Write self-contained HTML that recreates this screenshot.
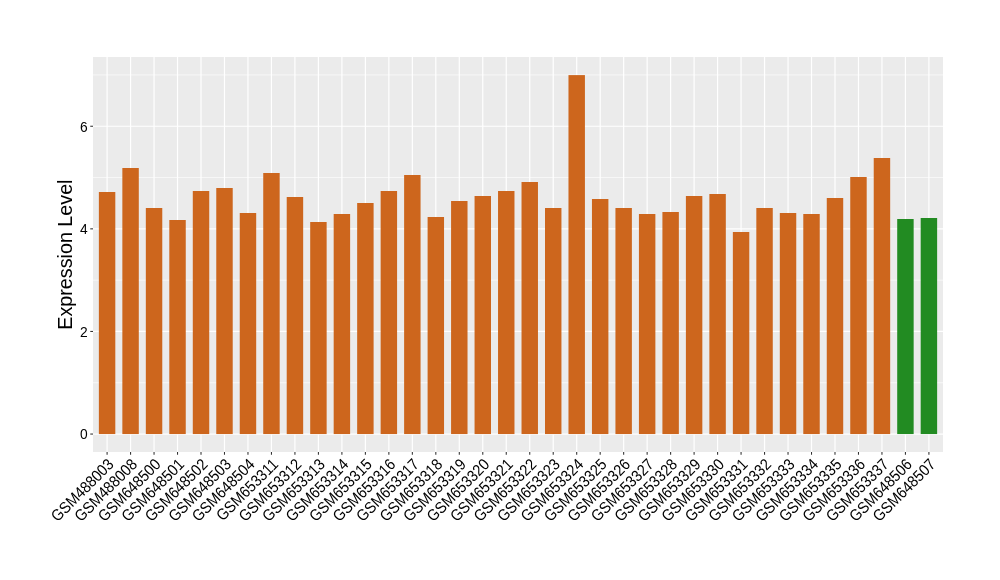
<!DOCTYPE html>
<html><head><meta charset="utf-8"><style>
html,body{margin:0;padding:0;background:#fff;}
svg{display:block;will-change:transform;font-family:"Liberation Sans",sans-serif;}
</style></head><body>
<svg width="1000" height="580" viewBox="0 0 1000 580">
<rect width="1000" height="580" fill="#fff"/>
<rect x="93" y="57" width="850" height="395" fill="#EBEBEB"/>
<line x1="93" x2="943" y1="382.75" y2="382.75" stroke="#fff" stroke-width="0.65"/>
<line x1="93" x2="943" y1="280.15" y2="280.15" stroke="#fff" stroke-width="0.65"/>
<line x1="93" x2="943" y1="177.55" y2="177.55" stroke="#fff" stroke-width="0.65"/>
<line x1="93" x2="943" y1="74.95" y2="74.95" stroke="#fff" stroke-width="0.65"/>
<line x1="93" x2="943" y1="434.05" y2="434.05" stroke="#fff" stroke-width="1.2"/>
<line x1="93" x2="943" y1="331.45" y2="331.45" stroke="#fff" stroke-width="1.2"/>
<line x1="93" x2="943" y1="228.85" y2="228.85" stroke="#fff" stroke-width="1.2"/>
<line x1="93" x2="943" y1="126.25" y2="126.25" stroke="#fff" stroke-width="1.2"/>
<line x1="107.09" x2="107.09" y1="57" y2="452" stroke="#fff" stroke-width="1.2"/>
<line x1="130.57" x2="130.57" y1="57" y2="452" stroke="#fff" stroke-width="1.2"/>
<line x1="154.05" x2="154.05" y1="57" y2="452" stroke="#fff" stroke-width="1.2"/>
<line x1="177.53" x2="177.53" y1="57" y2="452" stroke="#fff" stroke-width="1.2"/>
<line x1="201.01" x2="201.01" y1="57" y2="452" stroke="#fff" stroke-width="1.2"/>
<line x1="224.49" x2="224.49" y1="57" y2="452" stroke="#fff" stroke-width="1.2"/>
<line x1="247.97" x2="247.97" y1="57" y2="452" stroke="#fff" stroke-width="1.2"/>
<line x1="271.45" x2="271.45" y1="57" y2="452" stroke="#fff" stroke-width="1.2"/>
<line x1="294.93" x2="294.93" y1="57" y2="452" stroke="#fff" stroke-width="1.2"/>
<line x1="318.41" x2="318.41" y1="57" y2="452" stroke="#fff" stroke-width="1.2"/>
<line x1="341.90" x2="341.90" y1="57" y2="452" stroke="#fff" stroke-width="1.2"/>
<line x1="365.38" x2="365.38" y1="57" y2="452" stroke="#fff" stroke-width="1.2"/>
<line x1="388.86" x2="388.86" y1="57" y2="452" stroke="#fff" stroke-width="1.2"/>
<line x1="412.34" x2="412.34" y1="57" y2="452" stroke="#fff" stroke-width="1.2"/>
<line x1="435.82" x2="435.82" y1="57" y2="452" stroke="#fff" stroke-width="1.2"/>
<line x1="459.30" x2="459.30" y1="57" y2="452" stroke="#fff" stroke-width="1.2"/>
<line x1="482.78" x2="482.78" y1="57" y2="452" stroke="#fff" stroke-width="1.2"/>
<line x1="506.26" x2="506.26" y1="57" y2="452" stroke="#fff" stroke-width="1.2"/>
<line x1="529.74" x2="529.74" y1="57" y2="452" stroke="#fff" stroke-width="1.2"/>
<line x1="553.22" x2="553.22" y1="57" y2="452" stroke="#fff" stroke-width="1.2"/>
<line x1="576.70" x2="576.70" y1="57" y2="452" stroke="#fff" stroke-width="1.2"/>
<line x1="600.18" x2="600.18" y1="57" y2="452" stroke="#fff" stroke-width="1.2"/>
<line x1="623.66" x2="623.66" y1="57" y2="452" stroke="#fff" stroke-width="1.2"/>
<line x1="647.14" x2="647.14" y1="57" y2="452" stroke="#fff" stroke-width="1.2"/>
<line x1="670.62" x2="670.62" y1="57" y2="452" stroke="#fff" stroke-width="1.2"/>
<line x1="694.10" x2="694.10" y1="57" y2="452" stroke="#fff" stroke-width="1.2"/>
<line x1="717.59" x2="717.59" y1="57" y2="452" stroke="#fff" stroke-width="1.2"/>
<line x1="741.07" x2="741.07" y1="57" y2="452" stroke="#fff" stroke-width="1.2"/>
<line x1="764.55" x2="764.55" y1="57" y2="452" stroke="#fff" stroke-width="1.2"/>
<line x1="788.03" x2="788.03" y1="57" y2="452" stroke="#fff" stroke-width="1.2"/>
<line x1="811.51" x2="811.51" y1="57" y2="452" stroke="#fff" stroke-width="1.2"/>
<line x1="834.99" x2="834.99" y1="57" y2="452" stroke="#fff" stroke-width="1.2"/>
<line x1="858.47" x2="858.47" y1="57" y2="452" stroke="#fff" stroke-width="1.2"/>
<line x1="881.95" x2="881.95" y1="57" y2="452" stroke="#fff" stroke-width="1.2"/>
<line x1="905.43" x2="905.43" y1="57" y2="452" stroke="#fff" stroke-width="1.2"/>
<line x1="928.91" x2="928.91" y1="57" y2="452" stroke="#fff" stroke-width="1.2"/>
<rect x="98.87" y="192.00" width="16.44" height="242.05" fill="#CD661D"/>
<rect x="122.35" y="168.00" width="16.44" height="266.05" fill="#CD661D"/>
<rect x="145.83" y="208.00" width="16.44" height="226.05" fill="#CD661D"/>
<rect x="169.31" y="220.00" width="16.44" height="214.05" fill="#CD661D"/>
<rect x="192.79" y="191.00" width="16.44" height="243.05" fill="#CD661D"/>
<rect x="216.27" y="188.00" width="16.44" height="246.05" fill="#CD661D"/>
<rect x="239.75" y="213.00" width="16.44" height="221.05" fill="#CD661D"/>
<rect x="263.23" y="173.00" width="16.44" height="261.05" fill="#CD661D"/>
<rect x="286.72" y="197.00" width="16.44" height="237.05" fill="#CD661D"/>
<rect x="310.20" y="222.00" width="16.44" height="212.05" fill="#CD661D"/>
<rect x="333.68" y="214.00" width="16.44" height="220.05" fill="#CD661D"/>
<rect x="357.16" y="203.00" width="16.44" height="231.05" fill="#CD661D"/>
<rect x="380.64" y="191.00" width="16.44" height="243.05" fill="#CD661D"/>
<rect x="404.12" y="175.00" width="16.44" height="259.05" fill="#CD661D"/>
<rect x="427.60" y="217.00" width="16.44" height="217.05" fill="#CD661D"/>
<rect x="451.08" y="201.00" width="16.44" height="233.05" fill="#CD661D"/>
<rect x="474.56" y="196.00" width="16.44" height="238.05" fill="#CD661D"/>
<rect x="498.04" y="191.00" width="16.44" height="243.05" fill="#CD661D"/>
<rect x="521.52" y="182.00" width="16.44" height="252.05" fill="#CD661D"/>
<rect x="545.00" y="208.00" width="16.44" height="226.05" fill="#CD661D"/>
<rect x="568.48" y="75.10" width="16.44" height="358.95" fill="#CD661D"/>
<rect x="591.96" y="199.00" width="16.44" height="235.05" fill="#CD661D"/>
<rect x="615.44" y="208.00" width="16.44" height="226.05" fill="#CD661D"/>
<rect x="638.93" y="214.00" width="16.44" height="220.05" fill="#CD661D"/>
<rect x="662.41" y="212.00" width="16.44" height="222.05" fill="#CD661D"/>
<rect x="685.89" y="196.00" width="16.44" height="238.05" fill="#CD661D"/>
<rect x="709.37" y="194.00" width="16.44" height="240.05" fill="#CD661D"/>
<rect x="732.85" y="232.00" width="16.44" height="202.05" fill="#CD661D"/>
<rect x="756.33" y="208.00" width="16.44" height="226.05" fill="#CD661D"/>
<rect x="779.81" y="213.00" width="16.44" height="221.05" fill="#CD661D"/>
<rect x="803.29" y="214.00" width="16.44" height="220.05" fill="#CD661D"/>
<rect x="826.77" y="198.00" width="16.44" height="236.05" fill="#CD661D"/>
<rect x="850.25" y="177.00" width="16.44" height="257.05" fill="#CD661D"/>
<rect x="873.73" y="158.00" width="16.44" height="276.05" fill="#CD661D"/>
<rect x="897.21" y="219.00" width="16.44" height="215.05" fill="#228B22"/>
<rect x="920.69" y="218.00" width="16.44" height="216.05" fill="#228B22"/>
<line x1="90.26" x2="93" y1="434.05" y2="434.05" stroke="#333" stroke-width="1.07"/>
<line x1="90.26" x2="93" y1="331.45" y2="331.45" stroke="#333" stroke-width="1.07"/>
<line x1="90.26" x2="93" y1="228.85" y2="228.85" stroke="#333" stroke-width="1.07"/>
<line x1="90.26" x2="93" y1="126.25" y2="126.25" stroke="#333" stroke-width="1.07"/>
<line x1="107.09" x2="107.09" y1="452" y2="454.74" stroke="#333" stroke-width="1.07"/>
<line x1="130.57" x2="130.57" y1="452" y2="454.74" stroke="#333" stroke-width="1.07"/>
<line x1="154.05" x2="154.05" y1="452" y2="454.74" stroke="#333" stroke-width="1.07"/>
<line x1="177.53" x2="177.53" y1="452" y2="454.74" stroke="#333" stroke-width="1.07"/>
<line x1="201.01" x2="201.01" y1="452" y2="454.74" stroke="#333" stroke-width="1.07"/>
<line x1="224.49" x2="224.49" y1="452" y2="454.74" stroke="#333" stroke-width="1.07"/>
<line x1="247.97" x2="247.97" y1="452" y2="454.74" stroke="#333" stroke-width="1.07"/>
<line x1="271.45" x2="271.45" y1="452" y2="454.74" stroke="#333" stroke-width="1.07"/>
<line x1="294.93" x2="294.93" y1="452" y2="454.74" stroke="#333" stroke-width="1.07"/>
<line x1="318.41" x2="318.41" y1="452" y2="454.74" stroke="#333" stroke-width="1.07"/>
<line x1="341.90" x2="341.90" y1="452" y2="454.74" stroke="#333" stroke-width="1.07"/>
<line x1="365.38" x2="365.38" y1="452" y2="454.74" stroke="#333" stroke-width="1.07"/>
<line x1="388.86" x2="388.86" y1="452" y2="454.74" stroke="#333" stroke-width="1.07"/>
<line x1="412.34" x2="412.34" y1="452" y2="454.74" stroke="#333" stroke-width="1.07"/>
<line x1="435.82" x2="435.82" y1="452" y2="454.74" stroke="#333" stroke-width="1.07"/>
<line x1="459.30" x2="459.30" y1="452" y2="454.74" stroke="#333" stroke-width="1.07"/>
<line x1="482.78" x2="482.78" y1="452" y2="454.74" stroke="#333" stroke-width="1.07"/>
<line x1="506.26" x2="506.26" y1="452" y2="454.74" stroke="#333" stroke-width="1.07"/>
<line x1="529.74" x2="529.74" y1="452" y2="454.74" stroke="#333" stroke-width="1.07"/>
<line x1="553.22" x2="553.22" y1="452" y2="454.74" stroke="#333" stroke-width="1.07"/>
<line x1="576.70" x2="576.70" y1="452" y2="454.74" stroke="#333" stroke-width="1.07"/>
<line x1="600.18" x2="600.18" y1="452" y2="454.74" stroke="#333" stroke-width="1.07"/>
<line x1="623.66" x2="623.66" y1="452" y2="454.74" stroke="#333" stroke-width="1.07"/>
<line x1="647.14" x2="647.14" y1="452" y2="454.74" stroke="#333" stroke-width="1.07"/>
<line x1="670.62" x2="670.62" y1="452" y2="454.74" stroke="#333" stroke-width="1.07"/>
<line x1="694.10" x2="694.10" y1="452" y2="454.74" stroke="#333" stroke-width="1.07"/>
<line x1="717.59" x2="717.59" y1="452" y2="454.74" stroke="#333" stroke-width="1.07"/>
<line x1="741.07" x2="741.07" y1="452" y2="454.74" stroke="#333" stroke-width="1.07"/>
<line x1="764.55" x2="764.55" y1="452" y2="454.74" stroke="#333" stroke-width="1.07"/>
<line x1="788.03" x2="788.03" y1="452" y2="454.74" stroke="#333" stroke-width="1.07"/>
<line x1="811.51" x2="811.51" y1="452" y2="454.74" stroke="#333" stroke-width="1.07"/>
<line x1="834.99" x2="834.99" y1="452" y2="454.74" stroke="#333" stroke-width="1.07"/>
<line x1="858.47" x2="858.47" y1="452" y2="454.74" stroke="#333" stroke-width="1.07"/>
<line x1="881.95" x2="881.95" y1="452" y2="454.74" stroke="#333" stroke-width="1.07"/>
<line x1="905.43" x2="905.43" y1="452" y2="454.74" stroke="#333" stroke-width="1.07"/>
<line x1="928.91" x2="928.91" y1="452" y2="454.74" stroke="#333" stroke-width="1.07"/>
<text text-anchor="end" font-size="15" fill="#000" transform="translate(87.6,439.30) scale(0.92,1)">0</text>
<text text-anchor="end" font-size="15" fill="#000" transform="translate(87.6,336.70) scale(0.92,1)">2</text>
<text text-anchor="end" font-size="15" fill="#000" transform="translate(87.6,234.10) scale(0.92,1)">4</text>
<text text-anchor="end" font-size="15" fill="#000" transform="translate(87.6,131.50) scale(0.92,1)">6</text>
<text transform="translate(114.69,465.40) rotate(-45) scale(0.9,1)" text-anchor="end" font-size="16.0" fill="#000">GSM488003</text>
<text transform="translate(138.17,465.40) rotate(-45) scale(0.9,1)" text-anchor="end" font-size="16.0" fill="#000">GSM488008</text>
<text transform="translate(161.65,465.40) rotate(-45) scale(0.9,1)" text-anchor="end" font-size="16.0" fill="#000">GSM648500</text>
<text transform="translate(185.13,465.40) rotate(-45) scale(0.9,1)" text-anchor="end" font-size="16.0" fill="#000">GSM648501</text>
<text transform="translate(208.61,465.40) rotate(-45) scale(0.9,1)" text-anchor="end" font-size="16.0" fill="#000">GSM648502</text>
<text transform="translate(232.09,465.40) rotate(-45) scale(0.9,1)" text-anchor="end" font-size="16.0" fill="#000">GSM648503</text>
<text transform="translate(255.57,465.40) rotate(-45) scale(0.9,1)" text-anchor="end" font-size="16.0" fill="#000">GSM648504</text>
<text transform="translate(279.05,465.40) rotate(-45) scale(0.9,1)" text-anchor="end" font-size="16.0" fill="#000">GSM653311</text>
<text transform="translate(302.53,465.40) rotate(-45) scale(0.9,1)" text-anchor="end" font-size="16.0" fill="#000">GSM653312</text>
<text transform="translate(326.01,465.40) rotate(-45) scale(0.9,1)" text-anchor="end" font-size="16.0" fill="#000">GSM653313</text>
<text transform="translate(349.50,465.40) rotate(-45) scale(0.9,1)" text-anchor="end" font-size="16.0" fill="#000">GSM653314</text>
<text transform="translate(372.98,465.40) rotate(-45) scale(0.9,1)" text-anchor="end" font-size="16.0" fill="#000">GSM653315</text>
<text transform="translate(396.46,465.40) rotate(-45) scale(0.9,1)" text-anchor="end" font-size="16.0" fill="#000">GSM653316</text>
<text transform="translate(419.94,465.40) rotate(-45) scale(0.9,1)" text-anchor="end" font-size="16.0" fill="#000">GSM653317</text>
<text transform="translate(443.42,465.40) rotate(-45) scale(0.9,1)" text-anchor="end" font-size="16.0" fill="#000">GSM653318</text>
<text transform="translate(466.90,465.40) rotate(-45) scale(0.9,1)" text-anchor="end" font-size="16.0" fill="#000">GSM653319</text>
<text transform="translate(490.38,465.40) rotate(-45) scale(0.9,1)" text-anchor="end" font-size="16.0" fill="#000">GSM653320</text>
<text transform="translate(513.86,465.40) rotate(-45) scale(0.9,1)" text-anchor="end" font-size="16.0" fill="#000">GSM653321</text>
<text transform="translate(537.34,465.40) rotate(-45) scale(0.9,1)" text-anchor="end" font-size="16.0" fill="#000">GSM653322</text>
<text transform="translate(560.82,465.40) rotate(-45) scale(0.9,1)" text-anchor="end" font-size="16.0" fill="#000">GSM653323</text>
<text transform="translate(584.30,465.40) rotate(-45) scale(0.9,1)" text-anchor="end" font-size="16.0" fill="#000">GSM653324</text>
<text transform="translate(607.78,465.40) rotate(-45) scale(0.9,1)" text-anchor="end" font-size="16.0" fill="#000">GSM653325</text>
<text transform="translate(631.26,465.40) rotate(-45) scale(0.9,1)" text-anchor="end" font-size="16.0" fill="#000">GSM653326</text>
<text transform="translate(654.74,465.40) rotate(-45) scale(0.9,1)" text-anchor="end" font-size="16.0" fill="#000">GSM653327</text>
<text transform="translate(678.22,465.40) rotate(-45) scale(0.9,1)" text-anchor="end" font-size="16.0" fill="#000">GSM653328</text>
<text transform="translate(701.70,465.40) rotate(-45) scale(0.9,1)" text-anchor="end" font-size="16.0" fill="#000">GSM653329</text>
<text transform="translate(725.19,465.40) rotate(-45) scale(0.9,1)" text-anchor="end" font-size="16.0" fill="#000">GSM653330</text>
<text transform="translate(748.67,465.40) rotate(-45) scale(0.9,1)" text-anchor="end" font-size="16.0" fill="#000">GSM653331</text>
<text transform="translate(772.15,465.40) rotate(-45) scale(0.9,1)" text-anchor="end" font-size="16.0" fill="#000">GSM653332</text>
<text transform="translate(795.63,465.40) rotate(-45) scale(0.9,1)" text-anchor="end" font-size="16.0" fill="#000">GSM653333</text>
<text transform="translate(819.11,465.40) rotate(-45) scale(0.9,1)" text-anchor="end" font-size="16.0" fill="#000">GSM653334</text>
<text transform="translate(842.59,465.40) rotate(-45) scale(0.9,1)" text-anchor="end" font-size="16.0" fill="#000">GSM653335</text>
<text transform="translate(866.07,465.40) rotate(-45) scale(0.9,1)" text-anchor="end" font-size="16.0" fill="#000">GSM653336</text>
<text transform="translate(889.55,465.40) rotate(-45) scale(0.9,1)" text-anchor="end" font-size="16.0" fill="#000">GSM653337</text>
<text transform="translate(913.03,465.40) rotate(-45) scale(0.9,1)" text-anchor="end" font-size="16.0" fill="#000">GSM648506</text>
<text transform="translate(936.51,465.40) rotate(-45) scale(0.9,1)" text-anchor="end" font-size="16.0" fill="#000">GSM648507</text>
<text transform="translate(72,254.6) rotate(-90) scale(0.94,1)" text-anchor="middle" font-size="21" fill="#000">Expression Level</text>
</svg>
</body></html>
